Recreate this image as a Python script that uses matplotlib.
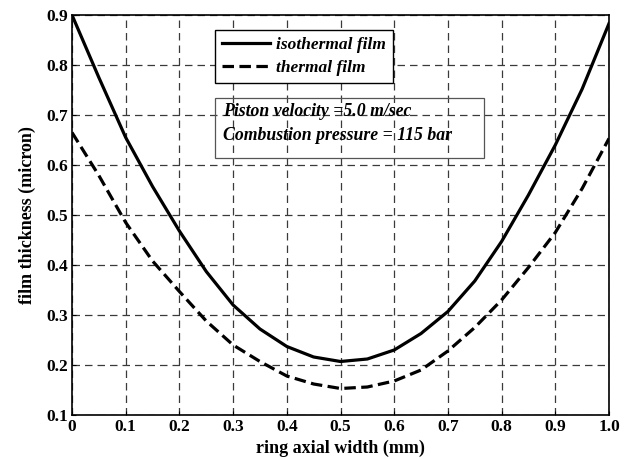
import matplotlib
matplotlib.use("Agg")
import matplotlib.pyplot as plt
from matplotlib.patches import Rectangle

# ---- data ----
x_mm = [0.00, 0.05, 0.10, 0.15, 0.20, 0.25, 0.30, 0.35, 0.40, 0.45, 0.50,
        0.55, 0.60, 0.65, 0.70, 0.75, 0.80, 0.85, 0.90, 0.95, 1.00]
isothermal = [0.900, 0.775, 0.655, 0.557, 0.468, 0.387, 0.320, 0.272, 0.237, 0.216, 0.207,
              0.212, 0.230, 0.263, 0.307, 0.368, 0.447, 0.540, 0.640, 0.752, 0.883]
thermal = [0.665, 0.579, 0.485, 0.408, 0.347, 0.288, 0.240, 0.207, 0.178, 0.162, 0.153,
           0.156, 0.168, 0.190, 0.228, 0.275, 0.330, 0.395, 0.465, 0.553, 0.653]
xticks = [0, 0.1, 0.2, 0.3, 0.4, 0.5, 0.6, 0.7, 0.8, 0.9, 1.0]
xticklabels = ["0", "0.1", "0.2", "0.3", "0.4", "0.5", "0.6", "0.7", "0.8", "0.9", "1.0"]
yticks = [0.1, 0.2, 0.3, 0.4, 0.5, 0.6, 0.7, 0.8, 0.9]
yticklabels = ["0.1", "0.2", "0.3", "0.4", "0.5", "0.6", "0.7", "0.8", "0.9"]
series_labels = ["isothermal film", "thermal film"]
xlabel = "ring axial width (mm)"
ylabel = "film thickness (micron)"
note_lines = ["Piston velocity =5.0 m/sec", "Combustion pressure = 115 bar"]

plt.rcParams['font.family'] = ['Liberation Serif', 'DejaVu Serif']

fig = plt.figure(figsize=(6.28, 4.59), dpi=100)
ax = fig.add_axes([72/628, 44/459, 537/628, 400/459])

ax.plot(x_mm, isothermal, color='black', lw=2.3, ls='-', label=series_labels[0])
ax.plot(x_mm, thermal, color='black', lw=2.3, ls=(0, (3.6, 1.7)), label=series_labels[1])

ax.set_xlim(0, 1.0)
ax.set_ylim(0.1, 0.9)
ax.set_xticks(xticks)
ax.set_xticklabels(xticklabels, fontsize=12.5, fontweight='bold')
ax.set_yticks(yticks)
ax.set_yticklabels(yticklabels, fontsize=12.5, fontweight='bold')
ax.tick_params(direction='in', length=3, width=0.8, pad=3)
ax.grid(True, color='#3a3a3a', ls=(0, (6, 4)), lw=0.9)
for s in ax.spines.values():
    s.set_linewidth(1.2)

ax.set_xlabel(xlabel, fontsize=13, fontweight='bold', labelpad=3)
ax.set_ylabel(ylabel, fontsize=13, fontweight='bold', labelpad=7)

leg = ax.legend(loc='upper left', bbox_to_anchor=(0.266, 0.963), borderaxespad=0,
                fancybox=False, framealpha=1, edgecolor='black',
                handlelength=2.8, handletextpad=0.35,
                borderpad=0.4, labelspacing=0.4,
                prop={'family': 'Liberation Serif', 'weight': 'bold', 'style': 'italic', 'size': 12.5})
leg.get_frame().set_linewidth(1.0)

ax.add_patch(Rectangle((0.266, 0.643), 0.501, 0.1495, transform=ax.transAxes,
                       fill=False, edgecolor='#555555', lw=0.9, zorder=4))
ax.text(0.281, 0.758, note_lines[0], transform=ax.transAxes, fontsize=12.8,
        fontweight='bold', style='italic', va='center', ha='left', zorder=5)
ax.text(0.281, 0.6975, note_lines[1], transform=ax.transAxes, fontsize=12.8,
        fontweight='bold', style='italic', va='center', ha='left', zorder=5)

fig.savefig("out.png", dpi=100)
